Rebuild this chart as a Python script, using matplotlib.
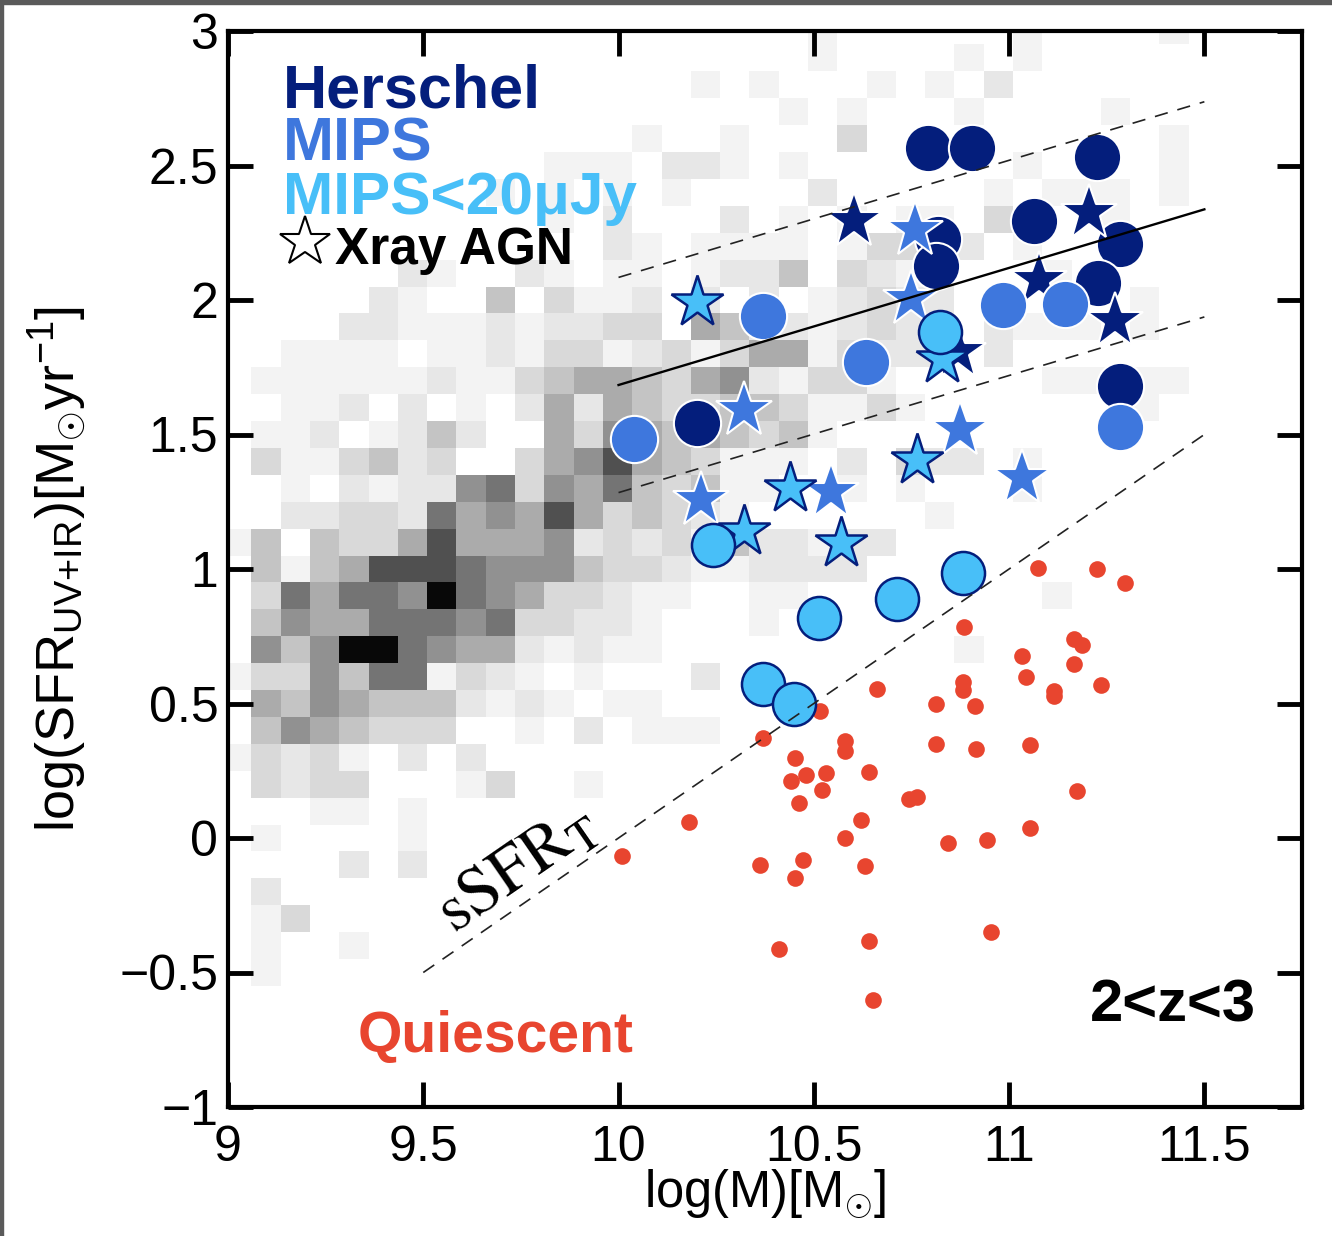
import matplotlib
matplotlib.use('Agg')
import matplotlib.pyplot as plt
import numpy as np
from matplotlib.colors import ListedColormap
from matplotlib.patches import Rectangle

plt.rcParams['font.family'] = ['Liberation Sans', 'DejaVu Sans']
plt.rcParams['mathtext.fontset'] = 'custom'
plt.rcParams['mathtext.rm'] = 'Liberation Sans'
plt.rcParams['mathtext.it'] = 'Liberation Sans:italic'
plt.rcParams['mathtext.bf'] = 'Liberation Sans:bold'

# background density of the full sample: darkness 0 (empty) .. 9 (peak)
# one string per 0.1 dex row of SFR, top row first; one char per 0.075 dex bin of mass
hist_x0, hist_dx = 8.985, 0.075
hist_y0, hist_dy = 3.05, 0.1
hist_rows = [
    "00000 00000 00000 00000 10000 00100 0010",
    "00000 00000 00000 00000 10000 10100 0000",
    "00000 00000 00000 01010 00101 02000 0000",
    "00000 00000 00000 00001 01000 10000 1000",
    "00000 00000 00001 00100 03000 00000 0010",
    "00000 00000 01110 22101 00000 00100 0010",
    "00000 00001 01010 10000 20000 01011 1010",
    "00000 00000 01020 00201 01011 03000 1000",
    "00000 00000 00021 01111 01330 20100 0000",
    "00000 02100 21011 01224 03212 00010 0000",
    "00000 21004 03112 02020 12322 00000 0100",
    "00002 21112 12233 05422 12322 02111 0100",
    "00111 10112 13312 31355 13222 02000 0000",
    "01111 11211 34554 35621 33100 00011 1110",
    "00112 02010 25254 33443 11310 00000 0100",
    "01120 12420 05365 45434 10000 00000 0000",
    "03113 42300 35685 43111 02032 20100 0000",
    "00102 12267 36574 34110 01010 00100 0000",
    "00223 32756 58534 32100 00001 00000 0000",
    "14043 35855 56232 31422 12200 00000 0000",
    "04145 88876 66433 21122 22000 00000 0000",
    "03757 76976 53321 10011 00000 00010 0000",
    "04655 77767 33221 00010 00000 00000 0000",
    "06469 97655 21211 00000 00000 10000 0000",
    "13364 77132 10100 02000 00000 00000 0000",
    "05465 44421 21011 00000 00000 00000 0000",
    "04654 33300 10201 11000 00000 00000 0000",
    "13231 02020 00000 00000 00000 00000 0000",
    "03233 00013 00100 00000 00000 00000 0000",
    "00011 01000 00000 00000 00000 00000 0000",
    "01000 01000 00000 00000 00000 00000 0000",
    "00002 02000 00000 00000 00000 00000 0000",
    "02000 00000 00000 00000 00000 00000 0000",
    "01300 00000 00000 00000 00000 00000 0000",
    "01001 00000 00000 00000 00000 00000 0000",
    "01000 00000 00000 00000 00000 00000 0000",
]

# Herschel detected
herschel_x = [10.793, 10.904, 11.225, 11.065, 10.819, 10.814, 11.285, 11.228, 11.285, 10.201]
herschel_y = [2.565, 2.565, 2.531, 2.293, 2.225, 2.127, 2.207, 2.065, 1.679, 1.544]
herschel_agn_x = [10.603, 11.204, 11.272, 11.076, 10.870]
herschel_agn_y = [2.293, 2.324, 1.923, 2.075, 1.806]

# MIPS detected
mips_x = [10.371, 10.633, 10.984, 11.144, 11.285, 10.040]
mips_y = [1.941, 1.769, 1.980, 1.984, 1.529, 1.482]
mips_agn_x = [10.321, 10.759, 10.750, 10.211, 10.543, 10.874, 11.033]
mips_agn_y = [1.591, 2.262, 2.003, 1.257, 1.288, 1.517, 1.338]

# MIPS < 20 uJy
faint_x = [10.241, 10.512, 10.712, 10.883, 10.371, 10.450, 10.823]
faint_y = [1.091, 0.816, 0.887, 0.986, 0.572, 0.498, 1.880]
faint_agn_x = [10.200, 10.322, 10.440, 10.570, 10.763, 10.827]
faint_agn_y = [1.991, 1.140, 1.301, 1.097, 1.406, 1.781]

# quiescent galaxies
quiescent_x = [10.009, 10.181, 10.371, 10.451, 10.480, 10.532, 10.441, 10.521, 10.461, 10.581,
               10.581, 10.642, 10.663, 10.515, 10.621, 10.744, 10.765, 10.581, 10.632, 10.473,
               10.451, 10.362, 10.412, 10.642, 10.652, 10.843, 10.943, 10.954, 11.054, 11.175,
               10.814, 10.884, 10.883, 10.883, 10.913, 10.814, 10.915, 11.054, 11.074, 11.225,
               11.296, 11.165, 11.187, 11.034, 11.165, 11.044, 11.236, 11.114, 11.114]
quiescent_y = [-0.066, 0.060, 0.371, 0.297, 0.235, 0.243, 0.212, 0.177, 0.131, 0.359,
               0.324, 0.245, 0.554, 0.473, 0.066, 0.144, 0.153, 0.001, -0.105, -0.083,
               -0.150, -0.101, -0.413, -0.382, -0.602, -0.020, -0.008, -0.351, 0.038, 0.175,
               0.498, 0.784, 0.580, 0.551, 0.490, 0.348, 0.330, 0.346, 1.004, 1.001,
               0.949, 0.739, 0.717, 0.677, 0.646, 0.597, 0.569, 0.547, 0.529]

# main sequence fit and its +-0.4 dex scatter, sSFR threshold (log sSFR = -10)
ms_x = [10.0, 11.5]
ms_y = [1.684, 2.337]
ms_scatter = 0.4
thr_x = [9.5, 11.5]
thr_logssfr = -10.0

navy = '#041e7c'
mid_blue = '#3e77dd'
light_blue = '#48bff8'
red = '#e8452f'
shades = ['#ffffff', '#f3f3f3', '#e7e7e7', '#d9d9d9', '#c4c4c4',
          '#ababab', '#919191', '#747474', '#505050', '#080808']

fig = plt.figure(figsize=(13.32, 12.36), dpi=100)
ax = fig.add_axes([228 / 1332, 1 - 1107 / 1236, 1074 / 1332, 1076 / 1236])

grid = np.array([[int(c) for c in r.replace(' ', '')] for r in hist_rows])
nrow, ncol = grid.shape
xe = hist_x0 + hist_dx * np.arange(ncol + 1)
ye = hist_y0 - hist_dy * np.arange(nrow + 1)
ax.pcolormesh(xe, ye, grid, cmap=ListedColormap(shades), vmin=-0.5, vmax=9.5,
              shading='flat', antialiased=False, zorder=1)

ax.plot(quiescent_x, quiescent_y, 'o', ms=12, color=red, mec='none', zorder=3)
ax.plot(herschel_x, herschel_y, 'o', ms=34, color=navy, mec='white', mew=1.5, zorder=4)
ax.plot(herschel_agn_x, herschel_agn_y, '*', ms=42, color=navy, mec='white', mew=1.5, zorder=5)
ax.plot(mips_agn_x, mips_agn_y, '*', ms=42, color=mid_blue, mec='white', mew=1.5, zorder=6)
ax.plot(mips_x, mips_y, 'o', ms=34, color=mid_blue, mec='white', mew=1.5, zorder=7)
ax.plot(faint_agn_x, faint_agn_y, '*', ms=39, color=light_blue, mec=navy, mew=1.8, zorder=8)
ax.plot(faint_x, faint_y, 'o', ms=31, color=light_blue, mec=navy, mew=1.8, zorder=9)

ms_x = np.array(ms_x)
ms_y = np.array(ms_y)
ax.plot(ms_x, ms_y, '-', color='black', lw=1.7, zorder=10)
for off in (ms_scatter, -ms_scatter):
    ax.plot(ms_x, ms_y + off, color='#222222', lw=1.2, dashes=(8, 6), zorder=10)
thr_x = np.array(thr_x)
ax.plot(thr_x, thr_x + thr_logssfr, color='#222222', lw=1.2, dashes=(8, 6), zorder=10)

ax.text(9.74, -0.115, r'$\mathrm{sSFR_T}$', math_fontfamily='stix', fontsize=49,
        rotation=34.6, ha='center', va='center', rotation_mode='anchor', zorder=11)

# legend made of coloured words
ax.text(0.051, 0.929, 'Herschel', transform=ax.transAxes, color=navy, fontsize=44,
        fontweight='bold', ha='left', va='baseline', zorder=12)
ax.text(0.051, 0.880, 'MIPS', transform=ax.transAxes, color=mid_blue, fontsize=44,
        fontweight='bold', ha='left', va='baseline', zorder=12)
ax.text(0.051, 0.830, u'MIPS<20\u03bcJy', transform=ax.transAxes, color=light_blue, fontsize=43.5,
        fontweight='bold', ha='left', va='baseline', zorder=12)
ax.plot([0.0717], [0.804], '*', transform=ax.transAxes, ms=38, mfc='white', mec='black',
        mew=1.5, zorder=12, clip_on=False)
ax.text(0.0996, 0.7835, 'Xray AGN', transform=ax.transAxes, color='black', fontsize=37,
        fontweight='bold', ha='left', va='baseline', zorder=12)
ax.text(0.121, 0.051, 'Quiescent', transform=ax.transAxes, color=red, fontsize=41,
        fontweight='bold', ha='left', va='baseline', zorder=12)
ax.text(0.957, 0.079, '2<z<3', transform=ax.transAxes, color='black', fontsize=43,
        fontweight='bold', ha='right', va='baseline', zorder=12)

ax.set_xlim(9, 11.75)
ax.set_ylim(-1, 3)
ax.set_xticks([9, 9.5, 10, 10.5, 11, 11.5])
ax.set_xticklabels(['9', '9.5', '10', '10.5', '11', '11.5'])
ax.set_yticks([-1, -0.5, 0, 0.5, 1, 1.5, 2, 2.5, 3])
ax.set_yticklabels([u'\u22121', u'\u22120.5', '0', '0.5', '1', '1.5', '2', '2.5', '3'])
ax.tick_params(direction='in', length=18, width=3.5, top=True, right=True,
               labelsize=36, colors='black')
ax.tick_params(axis='x', pad=13)
ax.tick_params(axis='y', pad=7)
for sp in ax.spines.values():
    sp.set_linewidth(3)
    sp.set_zorder(20)

ax.set_xlabel(r'log(M)[M$_{\odot}$]', fontsize=36.5)
ax.xaxis.set_label_coords(0.5, -0.056)
ax.xaxis.label.set_va('top')
ax.set_ylabel(r'log(SFR$_{\rm UV{+}IR}$)[M$_{\odot}$yr$^{-1}$]', fontsize=39)
ax.yaxis.set_label_coords(-0.129, 0.5)

# dark frame strips of the original screenshot
fig.patches.append(Rectangle((0, 1 - 4 / 1236), 1, 4 / 1236, transform=fig.transFigure,
                             color='#5a5a5a', zorder=0))
fig.patches.append(Rectangle((0, 0), 3 / 1332, 1, transform=fig.transFigure,
                             color='#5a5a5a', zorder=0))

fig.savefig('out.png', dpi=100)
